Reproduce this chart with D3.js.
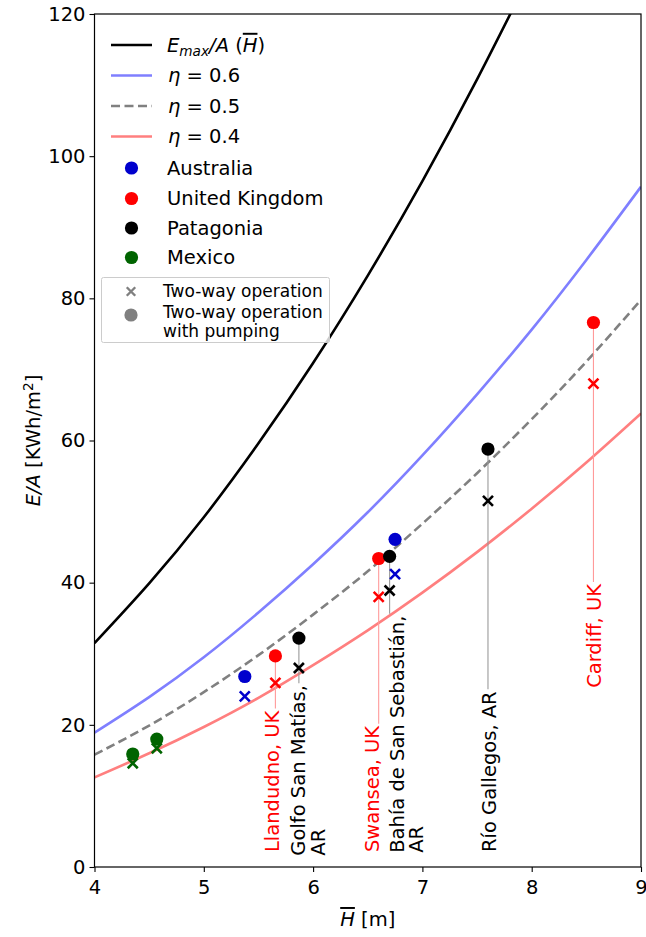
<!DOCTYPE html>
<html>
<head>
<meta charset="utf-8">
<script src="https://cdn.jsdelivr.net/npm/d3@7"></script>
<style>
  body { margin: 0; background: #fff; }
  svg { display: block; font-family: "DejaVu Sans", sans-serif; }
</style>
</head>
<body>
<div id="chart"></div>
<script>
// curve samples (E/A in KWh/m2 against mean range H in m)
const hGrid = [4, 4.5, 5, 5.5, 6, 6.5, 7, 7.5, 8, 8.5, 9];
const emaxValues = [31.5, 39.9, 49.2, 59.6, 70.9, 83.2, 96.5, 110.8, 126.0];
const eta06Values = [18.9, 23.9, 29.5, 35.8, 42.6, 49.9, 57.9, 66.5, 75.6, 85.4, 95.7];
const eta05Values = [15.8, 19.9, 24.6, 29.8, 35.5, 41.6, 48.3, 55.4, 63.0, 71.1, 79.8];
const eta04Values = [12.6, 16.0, 19.7, 23.8, 28.4, 33.3, 38.6, 44.3, 50.4, 56.9, 63.8];

// sites
const groups = ["Australia", "United Kingdom", "Patagonia", "Mexico"];
const siteGroup = ["Mexico", "Mexico", "Australia", "United Kingdom", "Patagonia",
                   "United Kingdom", "Patagonia", "Australia", "Patagonia", "United Kingdom"];
const siteH = [4.35, 4.57, 5.375, 5.655, 5.87, 6.60, 6.70, 6.75, 7.60, 8.565];
const sitePumping = [15.9, 18.0, 26.8, 29.7, 32.2, 43.4, 43.7, 46.1, 58.8, 76.6];
const siteTwoWay = [14.6, 16.7, 24.0, 25.9, 28.0, 38.0, 38.9, 41.2, 51.5, 68.0];
const siteLabel = [null, null, null, ["Llandudno, UK"], ["Golfo San Matías,", "AR"],
                   ["Swansea, UK"], ["Bahía de San Sebastián,", "AR"], null,
                   ["Río Gallegos, AR"], ["Cardiff, UK"]];
const labelH = [null, null, null, 5.63, 5.86, 6.545, 6.765, null, 7.615, 8.575];
const labelE = [null, null, null, 2.1, 1.6, 2.1, 2.0, null, 2.1, 25.2];

const xTicks = [4, 5, 6, 7, 8, 9];
const yTicks = [0, 20, 40, 60, 80, 100, 120];

const groupColor = d3.scaleOrdinal()
    .domain(groups)
    .range(["#0000cd", "#ff0000", "#000000", "#006400"]);

const W = 646, H = 937;
const margin = { top: 14, left: 94.5, right: 5, bottom: 70 };
const FS = 19.5;

const svg = d3.select("#chart").append("svg")
    .attr("width", W)
    .attr("height", H);

const x = d3.scaleLinear().domain([4, 9]).range([margin.left, W - margin.right]);
const y = d3.scaleLinear().domain([0, 120]).range([H - margin.bottom, margin.top]);

svg.append("clipPath").attr("id", "plotclip")
  .append("rect")
    .attr("x", x(4)).attr("y", y(120))
    .attr("width", x(9) - x(4)).attr("height", y(0) - y(120));

const plot = svg.append("g").attr("clip-path", "url(#plotclip)");

// curves
const curves = [
    { values: emaxValues, color: "#000000", dash: null },
    { values: eta06Values, color: "#7f7fff", dash: null },
    { values: eta05Values, color: "#808080", dash: "9,4.5" },
    { values: eta04Values, color: "#ff7f7f", dash: null }
];

const line = d3.line()
    .x(d => x(d[0]))
    .y(d => y(d[1]))
    .curve(d3.curveNatural);

curves.forEach(c => {
    plot.append("path")
        .datum(c.values.map((v, i) => [hGrid[i], v]))
        .attr("d", line)
        .attr("fill", "none")
        .attr("stroke", c.color)
        .attr("stroke-width", 2.6)
        .attr("stroke-dasharray", c.dash);
});

// labels + connector lines
siteLabel.forEach((lab, i) => {
    if (!lab) return;
    const col = siteGroup[i] === "United Kingdom" ? "#ff0000" : "#000000";
    const t = svg.append("text")
        .attr("transform", `translate(${x(labelH[i])},${y(labelE[i])}) rotate(-90)`)
        .style("font-size", FS + "px")
        .attr("fill", col);
    lab.forEach((s, k) => {
        t.append("tspan")
            .attr("x", 0)
            .attr("y", 0)
            .attr("dy", (0.35 + k * 1.02) + "em")
            .text(s);
    });
    const len = t.select("tspan").node().getComputedTextLength();
    svg.insert("line", "text")
        .attr("x1", x(siteH[i])).attr("x2", x(siteH[i]))
        .attr("y1", y(sitePumping[i]))
        .attr("y2", y(labelE[i]) - len - 2)
        .attr("stroke", siteGroup[i] === "United Kingdom" ? "#ff9a9a" : "#9a9a9a")
        .attr("stroke-width", 1.1);
});

// two-way operation crosses
const cross = "M-5,-5L5,5M-5,5L5,-5";
svg.append("g").selectAll("path")
    .data(siteH)
    .join("path")
    .attr("transform", (d, i) => `translate(${x(d)},${y(siteTwoWay[i])})`)
    .attr("d", cross)
    .attr("stroke", (d, i) => groupColor(siteGroup[i]))
    .attr("stroke-width", 2.6)
    .attr("fill", "none");

// with pumping circles
svg.append("g").selectAll("circle")
    .data(siteH)
    .join("circle")
    .attr("cx", d => x(d))
    .attr("cy", (d, i) => y(sitePumping[i]))
    .attr("r", 6.6)
    .attr("fill", (d, i) => groupColor(siteGroup[i]));

// axes
const xAxis = svg.append("g")
    .attr("transform", `translate(0,${y(0)})`)
    .call(d3.axisBottom(x).tickValues(xTicks).tickFormat(d3.format("d")).tickSize(5).tickPadding(8));
const yAxis = svg.append("g")
    .attr("transform", `translate(${x(4)},0)`)
    .call(d3.axisLeft(y).tickValues(yTicks).tickSize(5).tickPadding(4));
[xAxis, yAxis].forEach(a => {
    a.select(".domain").remove();
    a.selectAll("line").attr("stroke", "#000").attr("stroke-width", 1.1);
    a.selectAll("text").style("font-size", FS + "px").style("font-family", "DejaVu Sans").attr("fill", "#000");
});

// frame
svg.append("rect")
    .attr("x", x(4)).attr("y", y(120))
    .attr("width", x(9) - x(4)).attr("height", y(0) - y(120))
    .attr("fill", "none")
    .attr("stroke", "#000")
    .attr("stroke-width", 1.2);

// axis titles
const xt = svg.append("text")
    .attr("x", (x(4) + x(9)) / 2)
    .attr("y", 926)
    .attr("text-anchor", "middle")
    .style("font-size", FS + "px");
xt.append("tspan").style("font-style", "italic").style("text-decoration", "overline").text("H");
xt.append("tspan").text(" [m]");

const yt = svg.append("text")
    .attr("transform", `translate(33,${(y(0) + y(120)) / 2}) rotate(-90)`)
    .attr("text-anchor", "middle")
    .attr("dy", "0.35em")
    .style("font-size", FS + "px");
yt.append("tspan").style("font-style", "italic").text("E/A");
yt.append("tspan").text(" [KWh/m");
yt.append("tspan").attr("dy", -7).style("font-size", "70%").text("2");
yt.append("tspan").attr("dy", 7).text("]");

// legend 1
const leg = svg.append("g");
const lineRows = [
    { y: 45, color: "#000000", dash: null },
    { y: 75.5, color: "#7f7fff", dash: null },
    { y: 106, color: "#808080", dash: "9,4.5" },
    { y: 136.5, color: "#ff7f7f", dash: null }
];
lineRows.forEach(r => {
    leg.append("line")
        .attr("x1", 111).attr("x2", 152)
        .attr("y1", r.y).attr("y2", r.y)
        .attr("stroke", r.color)
        .attr("stroke-width", 2.6)
        .attr("stroke-dasharray", r.dash);
});
const l0 = leg.append("text").attr("x", 167).attr("y", 45).attr("dy", "0.35em").style("font-size", FS + "px");
l0.append("tspan").style("font-style", "italic").text("E");
l0.append("tspan").style("font-style", "italic").style("font-size", "70%").attr("dy", 4).text("max");
l0.append("tspan").style("font-style", "italic").attr("dy", -4).text("/A");
l0.append("tspan").text(" (");
l0.append("tspan").style("font-style", "italic").style("text-decoration", "overline").text("H");
l0.append("tspan").text(")");
["0.6", "0.5", "0.4"].forEach((v, k) => {
    const t = leg.append("text").attr("x", 168).attr("y", lineRows[k + 1].y).attr("dy", "0.35em").style("font-size", FS + "px");
    t.append("tspan").style("font-style", "italic").text("η");
    t.append("tspan").text(" = " + v);
});
const markerRows = [168, 198.5, 228, 257.5];
groups.forEach((g, k) => {
    leg.append("circle").attr("cx", 131.5).attr("cy", markerRows[k]).attr("r", 6.6).attr("fill", groupColor(g));
    leg.append("text").attr("x", 167).attr("y", markerRows[k]).attr("dy", "0.35em")
        .style("font-size", FS + "px").text(g);
});

// legend 2
const leg2 = svg.append("g");
leg2.append("rect")
    .attr("x", 101.5).attr("y", 277.5)
    .attr("width", 228).attr("height", 65)
    .attr("rx", 2)
    .attr("fill", "#fff").attr("fill-opacity", 0.8)
    .attr("stroke", "#cccccc").attr("stroke-width", 1);
leg2.append("path")
    .attr("transform", "translate(131,291.5) scale(0.85)")
    .attr("d", cross)
    .attr("stroke", "#808080").attr("stroke-width", 2.8).attr("fill", "none");
leg2.append("circle").attr("cx", 131).attr("cy", 315).attr("r", 6.6).attr("fill", "#808080");
const fs2 = 17;
leg2.append("text").attr("x", 163).attr("y", 291).attr("dy", "0.35em").style("font-size", fs2 + "px").text("Two-way operation");
leg2.append("text").attr("x", 163).attr("y", 312).attr("dy", "0.35em").style("font-size", fs2 + "px").text("Two-way operation");
leg2.append("text").attr("x", 163).attr("y", 331).attr("dy", "0.35em").style("font-size", fs2 + "px").text("with pumping");
</script>
</body>
</html>
